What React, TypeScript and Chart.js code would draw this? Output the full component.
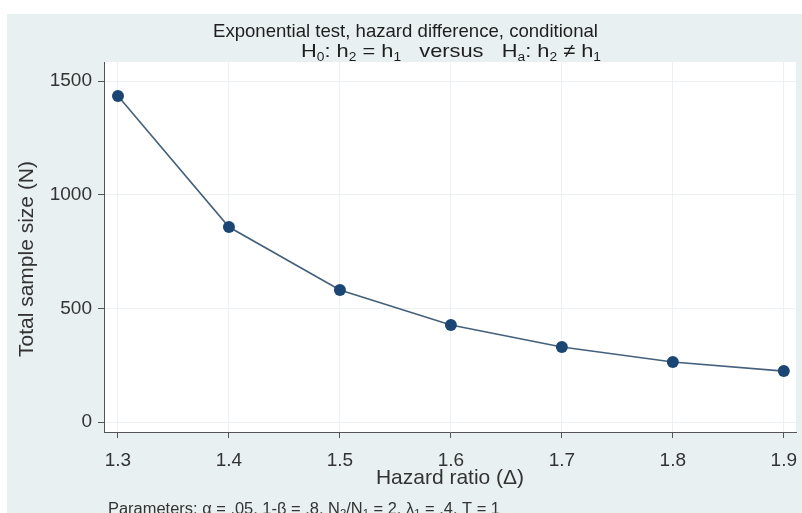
import React, { useEffect, useRef } from "react";
import { Chart, registerables } from "chart.js";

Chart.register(...registerables);

const hazardRatios = [1.3, 1.4, 1.5, 1.6, 1.7, 1.8, 1.9];
const sampleSizes = [1434, 858, 581, 427, 330, 264, 224];
const yTicks = [0, 500, 1000, 1500];
const titleLine1 = "Exponential test, hazard difference, conditional";
// runs: [text, isSubscript]
const titleLine2Runs: [string, boolean][] = [
  ["H", false], ["0", true], [": h", false], ["2", true], [" = h", false], ["1", true],
  ["   versus   H", false], ["a", true], [": h", false], ["2", true], [" \u2260 h", false], ["1", true],
];
const xTitle = "Hazard ratio (\u0394)";
const yTitle = "Total sample size (N)";
const footerRuns: [string, boolean][] = [
  ["Parameters: \u03b1 = .05, 1-\u03b2 = .8, N", false], ["2", true], ["/N", false], ["1", true],
  [" = 2, \u03bb", false], ["1", true], [" = .4, T = 1", false],
];

const FONT = "'Liberation Sans', Arial, sans-serif";

function drawRuns(
  ctx: CanvasRenderingContext2D,
  runs: [string, boolean][],
  left: number,
  baseline: number,
  size: number,
  subSize: number,
  targetWidth: number
) {
  let total = 0;
  for (const [t, sub] of runs) {
    ctx.font = `${sub ? subSize : size}px ${FONT}`;
    total += ctx.measureText(t).width;
  }
  const sx = targetWidth / total;
  ctx.save();
  ctx.translate(left, baseline);
  ctx.scale(sx, 1);
  let x = 0;
  for (const [t, sub] of runs) {
    ctx.font = `${sub ? subSize : size}px ${FONT}`;
    ctx.fillText(t, x, sub ? size * 0.2 : 0);
    x += ctx.measureText(t).width;
  }
  ctx.restore();
}

const decorPlugin = {
  id: "decor",
  beforeDraw(chart: any) {
    const { ctx, width, height, chartArea } = chart;
    ctx.save();
    ctx.fillStyle = "#ffffff";
    ctx.fillRect(0, 0, width, height);
    ctx.fillStyle = "#e8f0f2";
    ctx.fillRect(7, 14, width - 7, height - 14);
    ctx.fillStyle = "#ffffff";
    ctx.fillRect(chartArea.left, chartArea.top, chartArea.right - chartArea.left, chartArea.bottom - chartArea.top);
    ctx.restore();
  },
  afterDraw(chart: any) {
    const { ctx, chartArea } = chart;
    ctx.save();
    ctx.fillStyle = "#1e1e1e";
    ctx.textBaseline = "alphabetic";
    ctx.textAlign = "left";
    drawRuns(ctx, [[titleLine1, false]], 213, 37, 18.5, 12, 385);
    drawRuns(ctx, titleLine2Runs, 301, 57, 19, 12, 300);
    ctx.fillStyle = "#333333";
    drawRuns(ctx, footerRuns, 108, 514, 16, 11, 392);
    // y axis title
    ctx.save();
    ctx.translate(27, 259);
    ctx.rotate(-Math.PI / 2);
    ctx.textAlign = "center";
    ctx.textBaseline = "middle";
    ctx.font = `21px ${FONT}`;
    ctx.fillStyle = "#333333";
    ctx.fillText(yTitle, 0, 0);
    ctx.restore();
    ctx.restore();
  },
};

export default function App() {
  const ref = useRef<HTMLCanvasElement>(null);
  useEffect(() => {
    if (!ref.current) return;
    const chart = new Chart(ref.current, {
      type: "scatter",
      data: {
        datasets: [
          {
            data: hazardRatios.map((x, i) => ({ x, y: sampleSizes[i] })),
            showLine: true,
            borderColor: "#44607c",
            borderWidth: 1.6,
            backgroundColor: "#1b4673",
            pointBackgroundColor: "#1b4673",
            pointBorderColor: "#1b4673",
            pointRadius: 6,
            pointBorderWidth: 0,
          },
        ],
      },
      plugins: [decorPlugin],
      options: {
        responsive: false,
        animation: false,
        devicePixelRatio: 1,
        layout: { padding: { top: 62, left: 0, right: 5, bottom: 0 } },
        plugins: {
          legend: { display: false },
          tooltip: { enabled: false },
          title: { display: false },
        },
        scales: {
          x: {
            type: "linear",
            min: 1.2874,
            max: 1.911,
            afterFit: (s: any) => {
              s.height = 81;
              s.paddingLeft = 0;
              s.paddingRight = 0;
            },
            ticks: {
              stepSize: 0.1,
              includeBounds: false,
              autoSkip: false,
              maxRotation: 0,
              padding: 11,
              color: "#333333",
              font: { family: FONT, size: 19 },
              callback: (v: any) => Number(v).toFixed(1),
            },
            grid: {
              color: "#edf1f4",
              tickColor: "#555555",
              tickLength: 6,
              drawTicks: true,
            },
            border: { color: "#555555", width: 1 },
            title: {
              display: true,
              text: xTitle,
              color: "#333333",
              font: { family: FONT, size: 21 },
              padding: { top: 0, bottom: 22 },
            },
          },
          y: {
            type: "linear",
            min: -44,
            max: 1584,
            afterFit: (s: any) => {
              s.width = 104;
              s.paddingTop = 0;
              s.paddingBottom = 0;
            },
            afterBuildTicks: (s: any) => {
              s.ticks = yTicks.map((v) => ({ value: v }));
            },
            ticks: {
              includeBounds: false,
              padding: 6,
              color: "#333333",
              font: { family: FONT, size: 19 },
              callback: (v: any) => String(v),
            },
            grid: {
              color: "#edf1f4",
              tickColor: "#555555",
              tickLength: 6,
              drawTicks: true,
            },
            border: { color: "#555555", width: 1 },
            title: { display: false },
          },
        },
      },
    });
    return () => chart.destroy();
  }, []);
  return (
    <div style={{ position: "absolute", left: 0, top: 0, width: 802, height: 513 }}>
      <canvas ref={ref} width={802} height={513} />
    </div>
  );
}
